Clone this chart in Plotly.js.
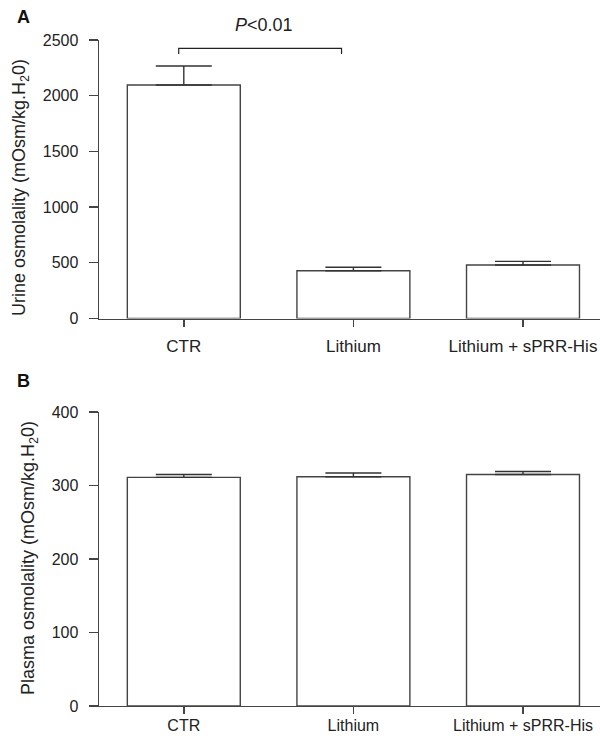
<!DOCTYPE html>
<html>
<head>
<meta charset="utf-8">
<script src="https://cdn.plot.ly/plotly-3.0.1.min.js"></script>
<style>html,body{margin:0;padding:0;background:#fff;}#chart{width:600px;height:736px;}</style>
</head>
<body>
<div id="chart"></div>
<script>
// Data
const categories = ["CTR", "Lithium", "Lithium + sPRR-His"];
const urineOsm = [2096, 429, 480];
const urineErr = [171, 31, 33];
const plasmaOsm = [311, 312, 315];
const plasmaErr = [4, 5, 4];
const zeros = [0, 0, 0];
const urineTicks = [0, 500, 1000, 1500, 2000, 2500];
const plasmaTicks = [0, 100, 200, 300, 400];

const FONT = "Liberation Sans, Arial, Helvetica, sans-serif";
const lineCol = "#444";
const txtCol = "#222";

function barTrace(y, err, xa, ya) {
  return {
    type: "bar", x: categories, y: y, xaxis: xa, yaxis: ya,
    marker: {color: "#ffffff", line: {color: lineCol, width: 1.4}},
    error_y: {type: "data", symmetric: false, array: err, arrayminus: zeros,
              color: "#333", thickness: 1.4, width: 28},
    hoverinfo: "skip", showlegend: false
  };
}

const xCommon = {
  type: "category", range: [-0.5, 2.454], domain: [99/600, 1],
  showline: true, linecolor: lineCol, linewidth: 1.4, showgrid: false, zeroline: false,
  ticks: "outside", ticklen: 7, tickcolor: lineCol, tickwidth: 1.4
};
const yCommon = {
  showline: true, linecolor: lineCol, linewidth: 1.4, showgrid: false, zeroline: false,
  ticks: "outside", ticklen: 9, tickcolor: lineCol, tickwidth: 1.4,
  tickfont: {family: FONT, size: 16, color: txtCol}, ticklabelstandoff: 7
};

const layout = {
  width: 600, height: 736,
  margin: {l: 0, r: 0, t: 0, b: 0},
  paper_bgcolor: "#fff", plot_bgcolor: "#fff",
  bargap: 0.334,
  font: {family: FONT, color: txtCol},
  xaxis: Object.assign({}, xCommon, {anchor: "y",
    tickfont: {family: FONT, size: 17, color: txtCol}, ticklabelstandoff: 5}),
  yaxis: Object.assign({}, yCommon, {anchor: "x", domain: [(736-318.5)/736, (736-40)/736],
    range: [0, 2500], tickvals: urineTicks}),
  xaxis2: Object.assign({}, xCommon, {anchor: "y2",
    tickfont: {family: FONT, size: 16, color: txtCol}, ticklabelstandoff: -3}),
  yaxis2: Object.assign({}, yCommon, {anchor: "x2", domain: [(736-706)/736, (736-412)/736],
    range: [0, 400], tickvals: plasmaTicks}),
  shapes: [
    {type: "path", xref: "x", yref: "y", path: "M -0.03,2375 L -0.03,2425 L 0.93,2425 L 0.93,2375",
     line: {color: "#222", width: 1.2}}
  ],
  annotations: [
    {text: "<b>A</b>", xref: "paper", yref: "paper", x: 15/600, y: (736-29)/736,
     xanchor: "left", yanchor: "bottom", showarrow: false, font: {family: FONT, size: 18, color: "#111"}},
    {text: "<b>B</b>", xref: "paper", yref: "paper", x: 15/600, y: (736-393)/736,
     xanchor: "left", yanchor: "bottom", showarrow: false, font: {family: FONT, size: 18, color: "#111"}},
    {text: "<i>P</i>&lt;0.01", xref: "x", yref: "paper", x: 0.47, y: (736-37)/736,
     xanchor: "center", yanchor: "bottom", showarrow: false, font: {family: FONT, size: 18, color: txtCol}},
    {text: "Urine osmolality (mOsm/kg.H<sub>2</sub>0)", xref: "paper", yref: "paper",
     x: 20/600, y: (736-188)/736, xanchor: "center", yanchor: "middle", textangle: -90,
     showarrow: false, font: {family: FONT, size: 18, color: txtCol}},
    {text: "Plasma osmolality (mOsm/kg.H<sub>2</sub>0)", xref: "paper", yref: "paper",
     x: 29/600, y: (736-558)/736, xanchor: "center", yanchor: "middle", textangle: -90,
     showarrow: false, font: {family: FONT, size: 18, color: txtCol}}
  ]
};

Plotly.newPlot("chart", [
  barTrace(urineOsm, urineErr, "x", "y"),
  barTrace(plasmaOsm, plasmaErr, "x2", "y2")
], layout, {staticPlot: true, displayModeBar: false});
</script>
</body>
</html>
